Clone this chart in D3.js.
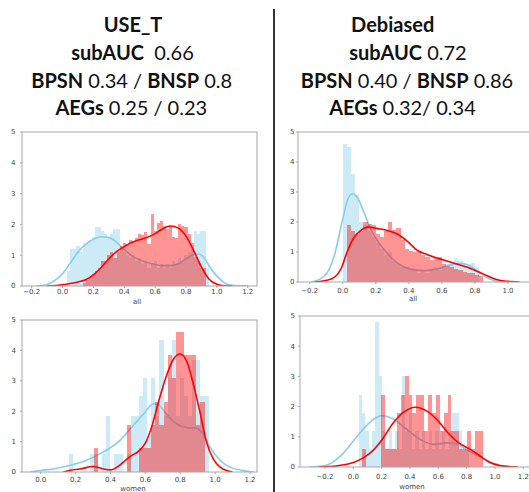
<!DOCTYPE html>
<html>
<head>
<meta charset="utf-8">
<script src="https://cdn.jsdelivr.net/npm/d3@7"></script>
<style>
  body { margin: 0; background: #fff; }
  svg { display: block; }
</style>
</head>
<body>
<div id="chart"></div>
<script>
// Two seaborn distplots per model: blue and red scores, histogram (density) + kde

// ---- titles: [text, bold] pieces per line ----
const leftTitle = [
  [["USE_T", true]],
  [["subAUC", true], ["  0.66", false]],
  [["BPSN", true], [" 0.34 / ", false], ["BNSP", true], [" 0.8", false]],
  [["AEGs", true], [" 0.25 / 0.23", false]]
];
const rightTitle = [
  [["Debiased", true]],
  [["subAUC", true], [" 0.72", false]],
  [["BPSN", true], [" 0.40 / ", false], ["BNSP", true], [" 0.86", false]],
  [["AEGs", true], [" 0.32/ 0.34", false]]
];

// ---- tick labels ----
const yTicks = [0, 1, 2, 3, 4, 5];
const xTicksUseAll = [-0.2, 0.0, 0.2, 0.4, 0.6, 0.8, 1.0, 1.2];
const xTicksDebAll = [-0.2, 0.0, 0.2, 0.4, 0.6, 0.8, 1.0];
const xTicksUseWomen = [0.0, 0.2, 0.4, 0.6, 0.8, 1.0, 1.2];
const xTicksDebWomen = [-0.2, 0.0, 0.2, 0.4, 0.6, 0.8, 1.0, 1.2];
const xAxisNames = ["all", "all", "women", "women"];

// ---- histograms: first bin edge, bin width, densities ----
const useAllBlueStart = 0.03, useAllBlueWidth = 0.02;
const useAllBlue = [0.5, 1.2, 1.2, 1.3, 1.1, 1.4, 1.4, 1.5, 1.6, 1.9, 1.9, 1.8, 1.7, 1.6, 1.7, 1.85,
  1.85, 1.2, 1.1, 1.0, 0.9, 1.0, 0.8, 0.9, 0.7, 0.8, 0.6, 0.7, 0.8, 0.6, 0.7, 0.6, 0.7, 0.6,
  0.8, 0.7, 0.9, 0.8, 1.0, 1.1, 1.2, 1.8, 1.7, 1.8, 1.8, 0.6];
const useAllRedStart = 0.13, useAllRedWidth = 0.02;
const useAllRed = [0.1, 0.2, 0.3, 0.4, 0.5, 0.6, 0.8, 0.8, 1.0, 1.1, 0.9, 1.1, 1.3, 1.4, 1.35, 1.5,
  1.45, 1.55, 1.7, 1.65, 1.75, 1.35, 2.35, 1.8, 2.05, 2.1, 1.95, 1.85, 1.95, 1.6, 1.55, 2.0,
  1.95, 1.9, 1.7, 1.4, 0.95, 0.8, 0.6, 0.6];

const debAllBlueStart = 0.0, debAllBlueWidth = 0.025;
const debAllBlue = [4.6, 4.5, 3.6, 2.9, 2.0, 1.9, 1.7, 1.5, 1.3, 1.1, 0.9, 1.0, 0.7, 0.6, 0.5, 0.5,
  0.4, 0.4, 0.3, 0.4, 0.3, 0.4, 0.5, 0.4, 0.5, 0.6, 0.6, 0.8, 0.7, 0.6, 0.6, 0.65, 0.5];
const debAllRedStart = 0.0, debAllRedWidth = 0.025;
const debAllRed = [0, 1.9, 1.7, 1.6, 1.7, 2.0, 1.95, 1.9, 1.6, 1.5, 1.7, 2.0, 1.75, 1.8, 1.4, 1.1,
  1.05, 1.0, 1.05, 0.9, 0.85, 0.75, 0.8, 0.85, 0.6, 0.55, 0.5, 0.45, 0.4, 0.35, 0.3, 0.3, 0.25, 0.2];

const useWomenBlueStart = 0.164, useWomenBlueWidth = 0.0235;
const useWomenBlue = [0.6, 0, 0, 0, 0, 0.6, 0.6, 0, 0.6, 1.85, 0, 0.6, 0.6, 0, 0.6, 1.85, 1.85,
  2.5, 3.1, 1.2, 3.1, 1.85, 4.35, 1.85, 3.1, 4.35, 1.85, 3.1, 2.5, 1.85, 3.7, 3.7, 2.5, 2.5];
const useWomenRedStart = 0.164, useWomenRedWidth = 0.0235;
const useWomenRed = [0, 0, 0, 0, 0, 0, 0.78, 0, 0, 0, 0, 0, 0, 0, 1.54, 0, 0, 0.78, 0.78, 0.78,
  1.54, 2.3, 1.54, 2.3, 3.85, 3.1, 4.6, 4.6, 3.85, 3.85, 3.85, 1.54, 2.3, 0];

const debWomenBlueStart = 0.038, debWomenBlueWidth = 0.0235;
const debWomenBlue = [2.4, 1.8, 1.2, 0.6, 1.2, 4.8, 3.0, 1.2, 0.6, 1.2, 0.6, 1.2, 0.6, 3.0, 1.2,
  1.8, 0.6, 1.2, 0.6, 1.2, 0.6, 1.2, 0.6, 1.2, 0.6, 1.2, 0.6, 1.2, 1.8, 1.8, 1.2, 0.6, 0.6];
const debWomenRedStart = 0.06, debWomenRedWidth = 0.0275;
const debWomenRed = [0.6, 0, 0, 0, 0, 2.4, 0.6, 0.6, 0.6, 1.8, 2.4, 3.0, 2.4, 1.8, 2.4, 2.4, 1.2,
  2.4, 1.8, 2.4, 1.2, 1.8, 2.4, 1.2, 1.2, 0.6, 0.6, 1.2, 0.6, 1.2, 1.2];

// ---- kde curves: [score, density] ----
const useAllBlueKde = [[-0.17, 0], [-0.1, 0.05], [-0.05, 0.18], [0, 0.4], [0.05, 0.75], [0.1, 1.1],
  [0.15, 1.35], [0.2, 1.52], [0.25, 1.6], [0.3, 1.58], [0.35, 1.42], [0.4, 1.18], [0.45, 0.98],
  [0.5, 0.85], [0.55, 0.76], [0.6, 0.7], [0.65, 0.66], [0.7, 0.66], [0.75, 0.72], [0.8, 0.88],
  [0.85, 1.02], [0.88, 1.04], [0.92, 0.9], [0.95, 0.65], [1.0, 0.32], [1.05, 0.1], [1.1, 0.02], [1.2, 0]];
const useAllRedKde = [[-0.1, 0], [0, 0.04], [0.05, 0.08], [0.1, 0.13], [0.15, 0.2], [0.2, 0.36],
  [0.25, 0.6], [0.3, 0.88], [0.35, 1.12], [0.4, 1.28], [0.45, 1.42], [0.5, 1.5], [0.55, 1.58],
  [0.6, 1.7], [0.65, 1.86], [0.7, 1.95], [0.75, 1.88], [0.8, 1.62], [0.85, 1.15], [0.9, 0.62],
  [0.95, 0.22], [1.0, 0.06], [1.05, 0.01], [1.1, 0]];
const debAllBlueKde = [[-0.19, 0], [-0.11, 0.2], [-0.05, 0.9], [0.0, 2.1], [0.03, 2.75], [0.06, 2.94],
  [0.09, 2.8], [0.13, 2.3], [0.17, 1.75], [0.22, 1.3], [0.27, 0.95], [0.33, 0.64], [0.41, 0.43],
  [0.49, 0.38], [0.57, 0.43], [0.66, 0.58], [0.72, 0.62], [0.78, 0.5], [0.83, 0.3], [0.88, 0.12],
  [0.94, 0.02], [1.0, 0]];
const debAllRedKde = [[-0.17, 0], [-0.07, 0.1], [-0.01, 0.45], [0.03, 1.05], [0.07, 1.5], [0.11, 1.72],
  [0.155, 1.83], [0.21, 1.78], [0.27, 1.72], [0.33, 1.6], [0.39, 1.36], [0.45, 1.06], [0.51, 0.92],
  [0.57, 0.8], [0.63, 0.7], [0.69, 0.6], [0.75, 0.5], [0.81, 0.37], [0.87, 0.22], [0.93, 0.08],
  [1.0, 0.02], [1.07, 0]];
const useWomenBlueKde = [[-0.06, 0], [0.0, 0.05], [0.07, 0.1], [0.17, 0.22], [0.26, 0.38], [0.36, 0.66],
  [0.455, 1.04], [0.53, 1.53], [0.59, 1.91], [0.646, 2.24], [0.68, 2.19], [0.72, 1.91], [0.78, 1.58],
  [0.837, 1.46], [0.895, 1.44], [0.93, 1.25], [0.97, 0.82], [1.03, 0.38], [1.085, 0.16], [1.18, 0.03], [1.22, 0]];
const useWomenRedKde = [[0.13, 0], [0.17, 0.06], [0.225, 0.1], [0.3, 0.18], [0.36, 0.1], [0.4, 0.07],
  [0.455, 0.23], [0.51, 0.5], [0.56, 0.68], [0.6, 0.95], [0.64, 1.55], [0.68, 2.4], [0.72, 3.15],
  [0.76, 3.7], [0.8, 3.88], [0.84, 3.6], [0.875, 2.9], [0.91, 2.05], [0.95, 1.0], [0.99, 0.42],
  [1.03, 0.15], [1.076, 0.03], [1.1, 0]];
const debWomenBlueKde = [[-0.31, 0], [-0.19, 0.06], [-0.07, 0.46], [0.024, 1.0], [0.117, 1.48],
  [0.2, 1.7], [0.28, 1.59], [0.377, 1.25], [0.47, 0.92], [0.564, 0.75], [0.66, 0.8], [0.73, 0.76],
  [0.8, 0.57], [0.87, 0.4], [0.94, 0.23], [1.035, 0.06], [1.13, 0]];
const debWomenRedKde = [[-0.24, 0], [-0.1, 0.05], [0.0, 0.15], [0.07, 0.3], [0.14, 0.55], [0.21, 0.95],
  [0.28, 1.45], [0.35, 1.8], [0.44, 1.98], [0.52, 1.85], [0.6, 1.52], [0.67, 1.12], [0.75, 0.78],
  [0.82, 0.6], [0.89, 0.38], [0.96, 0.16], [1.06, 0.03], [1.16, 0]];

// ---- layout ----
var W = 529, H = 492;
var blue = "#87ceeb", red = "#ff0000";

var svg = d3.select("#chart").append("svg")
  .attr("width", W).attr("height", H)
  .attr("viewBox", `0 0 ${W} ${H}`);

function bins(start, width, heights) {
  return heights.map((h, i) => ({ x0: start + i * width, x1: start + (i + 1) * width, h: h }))
    .filter(d => d.h > 0);
}

var panels = [
  { frame: [22, 132, 257, 286], xd: [-0.2, 1.2], xr: [31.7, 247.7], ticks: xTicksUseAll,
    tickDy: 7.5, yGap: 6.5, label: [137, 304],
    blue: bins(useAllBlueStart, useAllBlueWidth, useAllBlue), blueKde: useAllBlueKde,
    red: bins(useAllRedStart, useAllRedWidth, useAllRed), redKde: useAllRedKde },
  { frame: [298, 132, 540, 282], xd: [-0.2, 1.0], xr: [309.7, 508], ticks: xTicksDebAll,
    tickDy: 11, yGap: 3.5, label: [413, 301],
    blue: bins(debAllBlueStart, debAllBlueWidth, debAllBlue), blueKde: debAllBlueKde,
    red: bins(debAllRedStart, debAllRedWidth, debAllRed), redKde: debAllRedKde },
  { frame: [22, 320, 257, 472], xd: [0.0, 1.2], xr: [40.7, 250], ticks: xTicksUseWomen,
    tickDy: 9.5, yGap: 6, label: [133, 490.5],
    blue: bins(useWomenBlueStart, useWomenBlueWidth, useWomenBlue), blueKde: useWomenBlueKde,
    red: bins(useWomenRedStart, useWomenRedWidth, useWomenRed), redKde: useWomenRedKde },
  { frame: [300, 316, 540, 467], xd: [-0.2, 1.2], xr: [325, 523.3], ticks: xTicksDebWomen,
    tickDy: 12, yGap: 5, label: [412, 489],
    blue: bins(debWomenBlueStart, debWomenBlueWidth, debWomenBlue), blueKde: debWomenBlueKde,
    red: bins(debWomenRedStart, debWomenRedWidth, debWomenRed), redKde: debWomenRedKde }
];

panels.forEach(function(p, i) {
  var [x0, y0, x1, y1] = p.frame;
  var x = d3.scaleLinear().domain(p.xd).range(p.xr);
  var y = d3.scaleLinear().domain([0, 5]).range([y1, y0]);
  var g = svg.append("g");

  g.append("clipPath").attr("id", "clip" + i)
    .append("rect").attr("x", x0).attr("y", y0).attr("width", x1 - x0).attr("height", y1 - y0);
  var plot = g.append("g").attr("clip-path", `url(#clip${i})`);

  var line = d3.line().x(d => x(d[0])).y(d => y(d[1])).curve(d3.curveMonotoneX);

  function hist(data, color) {
    plot.append("g").selectAll("rect")
      .data(data)
      .enter().append("rect")
        .attr("x", d => x(d.x0))
        .attr("width", d => x(d.x1) - x(d.x0))
        .attr("y", d => y(d.h))
        .attr("height", d => y(0) - y(d.h))
        .attr("fill", color)
        .attr("fill-opacity", 0.42)
        .attr("shape-rendering", "crispEdges");
  }
  function kde(pts, color) {
    plot.append("path")
      .attr("d", line(pts))
      .attr("fill", "none")
      .attr("stroke", color)
      .attr("stroke-width", 1.6);
  }

  hist(p.blue, blue);
  kde(p.blueKde, blue);
  hist(p.red, red);
  kde(p.redKde, red);

  // frame
  g.append("rect")
    .attr("x", x0).attr("y", y0).attr("width", x1 - x0).attr("height", y1 - y0)
    .attr("fill", "none").attr("stroke", "#a8a8a8").attr("stroke-width", 1);

  // y ticks
  yTicks.forEach(function(t) {
    g.append("line").attr("x1", x0 - 2).attr("x2", x0).attr("y1", y(t)).attr("y2", y(t))
      .attr("stroke", "#a8a8a8");
    g.append("text")
      .attr("x", x0 - p.yGap).attr("y", y(t)).attr("dy", "0.35em")
      .attr("text-anchor", "end")
      .attr("class", "tick")
      .text(t);
  });
  // x ticks
  p.ticks.forEach(function(t) {
    g.append("line").attr("x1", x(t)).attr("x2", x(t)).attr("y1", y1).attr("y2", y1 + 2)
      .attr("stroke", "#a8a8a8");
    g.append("text")
      .attr("x", x(t)).attr("y", y1 + p.tickDy)
      .attr("text-anchor", "middle")
      .attr("class", "tick")
      .text((t < 0 ? "\u2212" : "") + Math.abs(t).toFixed(1));
  });
  g.append("text")
    .attr("x", p.label[0]).attr("y", p.label[1])
    .attr("text-anchor", "middle")
    .attr("class", "tick")
    .text(xAxisNames[i]);
});

svg.selectAll(".tick")
  .style("font-family", "DejaVu Sans")
  .style("font-size", "7px")
  .attr("fill", "#444");

// divider between the two models
svg.append("line")
  .attr("x1", 274).attr("x2", 274).attr("y1", 9).attr("y2", H)
  .attr("stroke", "#333").attr("stroke-width", 2);

// titles
function title(lines, centers) {
  var baselines = [32, 60, 87.5, 115];
  lines.forEach(function(parts, i) {
    var t = svg.append("text")
      .attr("x", centers[i]).attr("y", baselines[i])
      .attr("text-anchor", "middle")
      .style("font-family", "Lato")
      .style("font-size", "20px")
      .style("white-space", "pre")
      .attr("fill", "#111");
    parts.forEach(function(pc) {
      t.append("tspan").style("font-weight", pc[1] ? "bold" : "normal").text(pc[0]);
    });
  });
}
title(leftTitle, [133, 132.5, 131.7, 131.3]);
title(rightTitle, [392.7, 408, 407, 402.5]);
</script>
</body>
</html>
